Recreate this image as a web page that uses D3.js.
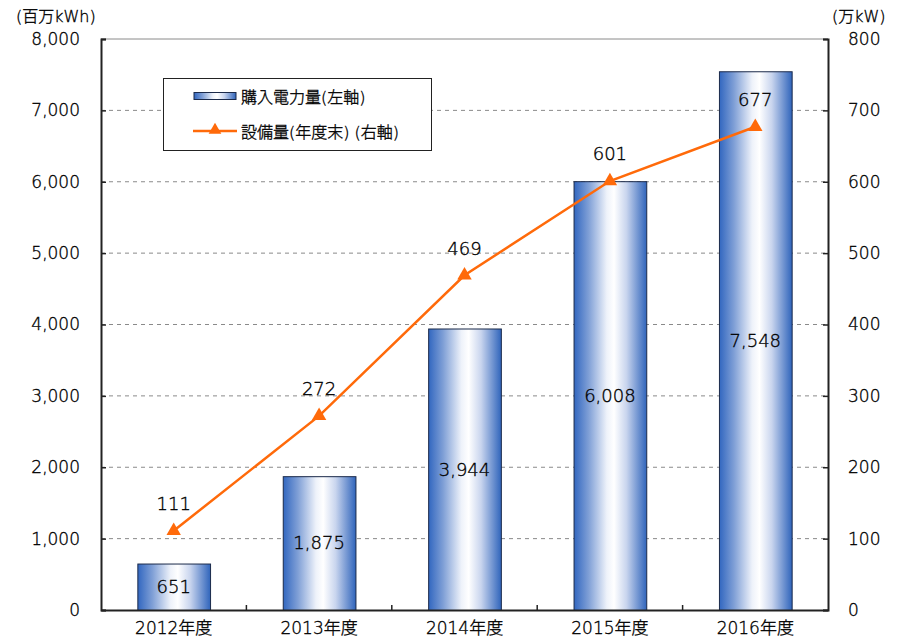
<!DOCTYPE html>
<html>
<head>
<meta charset="utf-8">
<script src="https://cdn.jsdelivr.net/npm/d3@7"></script>
<style>
  body { margin: 0; background: #fff; }
  svg { display: block; font-family: "DejaVu Sans", "Noto Sans CJK JP", sans-serif; font-weight: 300; }
  svg text { stroke: #000; stroke-width: 0.35px; }
</style>
</head>
<body>
<svg id="chart" width="903" height="642"></svg>
<script>
// Purchased electricity (left axis, 百万kWh) and installed capacity at year end (right axis, 万kW)
const categories = ["2012年度", "2013年度", "2014年度", "2015年度", "2016年度"];
const purchased = [651, 1875, 3944, 6008, 7548];
const capacity = [111, 272, 469, 601, 677];
const leftTicks = [0, 1000, 2000, 3000, 4000, 5000, 6000, 7000, 8000];
const rightTicks = [0, 100, 200, 300, 400, 500, 600, 700, 800];
const legendLabels = ["購入電力量(左軸)", "設備量(年度末) (右軸)"];

const FONT = "'DejaVu Sans', 'Noto Sans CJK JP', sans-serif";
const INK = "#000";

const svg = d3.select("#chart");
const m = { left: 101, right: 828, top: 39, bottom: 610 };

const x = d3.scaleBand().domain(categories).range([m.left, m.right]).paddingInner(0.5).paddingOuter(0.25);
const xBand = d3.scaleBand().domain(categories).range([m.left, m.right]);
const yL = d3.scaleLinear().domain([0, 8000]).range([m.bottom, m.top]);
const yR = d3.scaleLinear().domain([0, 800]).range([m.bottom, m.top]);

// Horizontal bar gradient: blue edges, white core
const defs = svg.append("defs");
const grad = defs.append("linearGradient").attr("id", "barGrad").attr("x1", "0%").attr("x2", "100%");
[[0, "#3267c0"], [0.2, "#7f9fd6"], [0.45, "#eef2fa"], [0.55, "#ffffff"], [0.72, "#c9d5ee"], [1, "#2f64bb"]]
  .forEach(([o, c]) => grad.append("stop").attr("offset", o).attr("stop-color", c));

// Grid lines
svg.append("g").selectAll("line").data(leftTicks.filter(t => t > 0 && t < 8000)).join("line")
  .attr("x1", m.left).attr("x2", m.right)
  .attr("y1", d => yL(d)).attr("y2", d => yL(d))
  .attr("stroke", "#8a8a8a").attr("stroke-width", 1).attr("stroke-dasharray", "4,4");
svg.append("line").attr("x1", m.left).attr("x2", m.right).attr("y1", m.top).attr("y2", m.top)
  .attr("stroke", "#8a8a8a").attr("stroke-width", 1);

// Bars
svg.append("g").selectAll("rect").data(purchased).join("rect")
  .attr("x", (d, i) => x(categories[i]) + 0.5)
  .attr("y", d => yL(d) + 0.5)
  .attr("width", x.bandwidth())
  .attr("height", d => yL(0) - yL(d))
  .attr("fill", "url(#barGrad)")
  .attr("stroke", "#1b2a4a").attr("stroke-width", 1);

// Axes
const leftAxis = d3.axisLeft(yL).tickValues(leftTicks).tickSize(-5).tickPadding(21).tickFormat(d3.format(","));
const gL = svg.append("g").attr("transform", `translate(${m.left},0)`).call(leftAxis);
const rightAxis = d3.axisRight(yR).tickValues(rightTicks).tickSize(-5).tickPadding(20).tickFormat(d3.format("d"));
const gR = svg.append("g").attr("transform", `translate(${m.right},0)`).call(rightAxis);
const bottomAxis = d3.axisBottom(xBand).tickSize(0).tickPadding(12);
const gB = svg.append("g").attr("transform", `translate(0,${m.bottom})`).call(bottomAxis);
[gL, gR, gB].forEach(g => {
  g.select(".domain").attr("stroke", "#222").attr("stroke-width", 2);
  g.selectAll(".tick line").attr("stroke", "#222").attr("stroke-width", 1.5);
  g.selectAll("text").attr("font-size", 17).attr("fill", INK).attr("font-family", FONT);
});
gB.selectAll("text").attr("dy", "0.71em");
// category separator ticks on the bottom axis
svg.append("g").selectAll("line").data(categories.slice(1)).join("line")
  .attr("x1", d => xBand(d)).attr("x2", d => xBand(d))
  .attr("y1", m.bottom).attr("y2", m.bottom - 5)
  .attr("stroke", "#222").attr("stroke-width", 1.5);

// Axis unit titles
svg.append("text").attr("x", 16).attr("y", 22).attr("font-size", 16).attr("fill", INK).text("(百万kWh)");
svg.append("text").attr("x", 832).attr("y", 22).attr("font-size", 16).attr("fill", INK).text("(万kW)");

// Bar value labels
svg.append("g").selectAll("text").data(purchased).join("text")
  .attr("x", (d, i) => x(categories[i]) + x.bandwidth() / 2)
  .attr("y", d => (yL(d) + yL(0)) / 2)
  .attr("dy", "0.35em").attr("text-anchor", "middle")
  .attr("font-size", 18).attr("fill", INK)
  .text(d => d3.format(",")(d));

// Capacity line
const orange = "#ff6a0a";
const cx = i => xBand(categories[i]) + xBand.bandwidth() / 2;
const line = d3.line().x((d, i) => cx(i)).y(d => yR(d));
svg.append("path").datum(capacity).attr("d", line)
  .attr("fill", "none").attr("stroke", orange).attr("stroke-width", 2.5);
const tri = d3.symbol().type(d3.symbolTriangle).size(90);
svg.append("g").selectAll("path").data(capacity).join("path")
  .attr("d", tri)
  .attr("transform", (d, i) => `translate(${cx(i)},${yR(d)})`)
  .attr("fill", orange);
svg.append("g").selectAll("text").data(capacity).join("text")
  .attr("x", (d, i) => cx(i))
  .attr("y", d => yR(d) - 27)
  .attr("dy", "0.35em").attr("text-anchor", "middle")
  .attr("font-size", 18).attr("fill", INK)
  .text(d => d);

// Legend
const lg = svg.append("g");
lg.append("rect").attr("x", 163.5).attr("y", 78.5).attr("width", 268).attr("height", 72)
  .attr("fill", "#fff").attr("stroke", "#222").attr("stroke-width", 1);
lg.append("rect").attr("x", 194).attr("y", 92.5).attr("width", 42).attr("height", 7)
  .attr("fill", "url(#barGrad)").attr("stroke", "#1b2a4a").attr("stroke-width", 1);
lg.append("line").attr("x1", 193).attr("x2", 237).attr("y1", 131).attr("y2", 131)
  .attr("stroke", orange).attr("stroke-width", 2.5);
lg.append("path").attr("d", d3.symbol().type(d3.symbolTriangle).size(70))
  .attr("transform", "translate(215,130)").attr("fill", orange);
lg.selectAll("text.lab").data(legendLabels).join("text").attr("class", "lab")
  .attr("x", 241).attr("y", (d, i) => 97 + i * 35)
  .attr("dy", "0.35em").attr("font-size", 16).attr("fill", INK)
  .text(d => d);
</script>
</body>
</html>
